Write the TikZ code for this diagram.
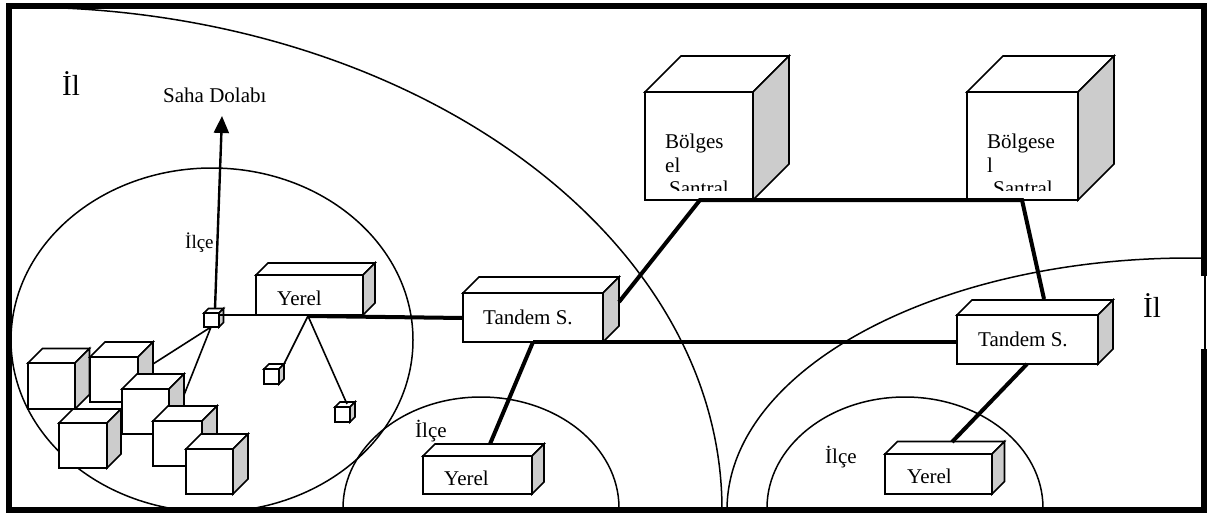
\documentclass[tikz,border=0pt]{standalone}
\usepackage{fontspec}
\setmainfont{Liberation Serif}
\usetikzlibrary{arrows.meta}
\definecolor{sidegray}{HTML}{CCCCCC}
\tikzset{
  cubeline/.style={line width=1.6pt, line join=miter},
  region/.style={line width=1.5pt},
  thinlink/.style={line width=1.6pt},
  thicklink/.style={line width=4pt},
  lbl/.style={anchor=base west, inner sep=0pt, font=\fontsize{21}{24}\selectfont},
  biglbl/.style={anchor=base west, inner sep=0pt, font=\fontsize{29}{32}\selectfont},
}
% x1 y1 x2 y2 depth : front rectangle corners and offset of the back face
\newcommand{\boxcube}[5]{%
  \filldraw[cubeline,fill=white] (#1,#2) rectangle (#3,#4);
  \filldraw[cubeline,fill=white] (#1,#2) -- ({#1+#5},{#2-#5}) -- ({#3+#5},{#2-#5}) -- (#3,#2) -- cycle;
  \filldraw[cubeline,fill=sidegray] (#3,#2) -- ({#3+#5},{#2-#5}) -- ({#3+#5},{#4-#5}) -- (#3,#4) -- cycle;
}
\begin{document}
\begin{tikzpicture}[x=1pt,y=-1pt]
\useasboundingbox (0,0) rectangle (1216,514);
\fill[white] (0,0) rectangle (1216,514);

% regions (Il, Ilce)
\begin{scope}
  \clip (9,6) rectangle (1203,510);
  \draw[region] (18,510) ellipse [x radius=704pt, y radius=503pt];
  \draw[region] (1190,510) ellipse [x radius=463pt, y radius=252pt];
  \draw[region] (212,340) ellipse [x radius=201pt, y radius=172pt];
  \draw[region] (481,508) ellipse [x radius=138pt, y radius=111pt];
  \draw[region] (905,508) ellipse [x radius=138pt, y radius=111pt];
\end{scope}

% cubes
\boxcube{645}{92}{753}{200}{36}
\boxcube{967}{92}{1078}{200}{36}
\boxcube{463}{293}{603}{342}{16}
\boxcube{957}{315}{1098}{364}{15}
\boxcube{256}{275}{363}{315}{12}
\boxcube{423}{456}{532}{494}{12}
\boxcube{885}{454}{992}{494}{12.5}
\boxcube{204}{313}{219}{327}{4.5}
\boxcube{264}{369}{279}{384}{5}
\boxcube{335}{407}{350}{422}{5}
% cluster
\boxcube{28}{363}{75}{409}{14.5}
\boxcube{90}{357}{138}{402}{15}
\boxcube{122}{389}{169}{434}{15}
\boxcube{59}{423}{107}{468}{14}
\boxcube{153}{421}{202}{466}{15}
\boxcube{186}{449}{233}{494}{15}

% connector points
\coordinate (sdtop) at (215,308.5);
\coordinate (sdtip) at (222,116);
\coordinate (sdright) at (219,315);
\coordinate (sdbottom) at (211,327);
\coordinate (clB) at (153,364);
\coordinate (clC) at (184,395);
\coordinate (yl_left) at (256,315);
\coordinate (yl_hub) at (308,316);
\coordinate (sc1) at (284,364);
\coordinate (sc2) at (347,404);
\coordinate (tl_left) at (463,318);
\coordinate (tl_face) at (619,302);
\coordinate (bs1) at (700,200);
\coordinate (bs2) at (1022,200);
\coordinate (tr_top) at (1044,299);
\coordinate (tl_bot) at (533,342);
\coordinate (tr_left) at (957,342);
\coordinate (ym_top) at (490,444);
\coordinate (tr_bot) at (1027,364);
\coordinate (yr_top) at (952,442);

% connectors
\draw[line width=2.4pt, -{Triangle[length=17pt,width=15pt]}] (sdtop) -- (sdtip);
\draw[thinlink] (sdright) -- (yl_left);
\draw[thinlink] (sdbottom) -- (clB);
\draw[thinlink] (sdbottom) -- (clC);
\draw[thinlink] (yl_hub) -- (sc1);
\draw[thinlink] (yl_hub) -- (sc2);
\draw[thicklink] (yl_hub) -- (tl_left);
\draw[thicklink, line join=miter] (tl_face) -- (bs1) -- (bs2) -- (tr_top);
\draw[thicklink] (tl_bot) -- (tr_left);
\draw[thicklink] (tl_bot) -- (ym_top);
\draw[thicklink] (tr_bot) -- (yr_top);

% labels
\node[biglbl] (il1) at (62,95) {İl};
\node[biglbl] (il2) at (1143,317) {İl};
\node[lbl] (saha) at (163,102) {Saha Dolabı};
\node[lbl, font=\fontsize{19}{22}\selectfont] (ilce1) at (185,248) {İlçe};
\node[lbl] (ilce2) at (415,437) {İlçe};
\node[lbl] (ilce3) at (825,463) {İlçe};
\node[lbl] (yerel1) at (277,305) {Yerel};
\node[lbl] (yerel2) at (444,485) {Yerel};
\node[lbl] (yerel3) at (907,483) {Yerel};
\node[lbl] (tandem1) at (483,324) {Tandem S.};
\node[lbl] (tandem2) at (978,346) {Tandem S.};
\begin{scope}
  \clip (645,92) rectangle (753,190);
  \node[lbl] (b1a) at (665,148) {Bölges};
  \node[lbl] (b1b) at (665,172) {el};
  \node[lbl] (b1c) at (669,195) {Santral};
\end{scope}
\begin{scope}
  \clip (967,92) rectangle (1078,190);
  \node[lbl] (b2a) at (987,148) {Bölgese};
  \node[lbl] (b2b) at (987,172) {l};
  \node[lbl] (b2c) at (993,195) {Santral};
\end{scope}

% frame
\draw[line width=6pt, line join=miter] (1203.5,276) -- (1203.5,6) -- (9,6) -- (9,510) -- (1203.5,510) -- (1203.5,349);
\draw[line width=2pt] (1204.5,276) -- (1204.5,349);
\end{tikzpicture}
\end{document}
